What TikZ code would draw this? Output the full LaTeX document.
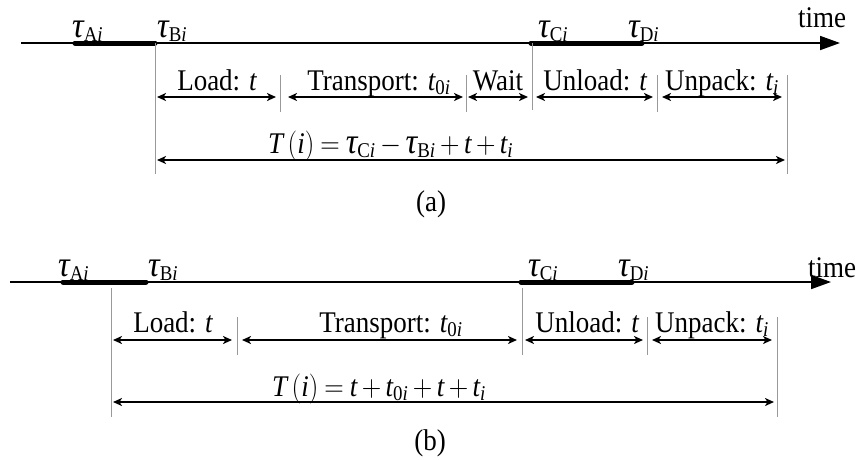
\RequirePackage{fix-cm}
\documentclass[tikz,border=0pt]{standalone}
\usepackage{fontspec}
\setmainfont{Liberation Serif}
\usetikzlibrary{arrows.meta}
\newcommand\tauit{\mbox{\itshape τ}}
\newcommand\taubig{\mbox{\fontsize{36}{40}\selectfont\itshape τ}}
\newcommand\tlab[1]{$\taubig_{\mathrm{#1}\mathit{i}}$}
\newcommand\sq[1]{\scalebox{0.9}[1]{#1}}
\newcommand\tight{\thickmuskip=4mu\medmuskip=3mu}
\begin{document}
\begin{tikzpicture}[x=1pt,y=-1pt,
  every node/.style={font=\fontsize{30}{34}\selectfont, inner sep=0pt},
  axis/.style={line width=1.8pt,-{Triangle[length=20pt,width=14pt]}},
  busy/.style={line width=5pt,line cap=round},
  guide/.style={line width=1pt,black!40},
  dim/.style={line width=1.8pt,{Stealth[length=9pt,width=8pt,inset=2.5pt]}-{Stealth[length=9pt,width=8pt,inset=2.5pt]}},
  tlabel/.style={anchor=base west},
  dlabel/.style={anchor=base}]
\useasboundingbox (0,0) rectangle (856,459);

% ---------------- (a) ----------------
\coordinate (a0) at (21,43);
\coordinate (a1) at (840,43);
\coordinate (aA) at (75,43);
\coordinate (aB) at (155,43);
\coordinate (aC) at (531,43);
\coordinate (aD) at (642,43);
\draw[axis] (a0) -- (a1);
\draw[busy] (aA) -- (aB);
\draw[busy] (aC) -- (aD);
\node[tlabel] (atime) at (798,27) {\sq{time}};
\node[tlabel] (atA) at (72,37) {\sq{\tlab{A}}};
\node[tlabel] (atB) at (157,37) {\sq{\tlab{B}}};
\node[tlabel] (atC) at (538,37) {\sq{\tlab{C}}};
\node[tlabel] (atD) at (628,37) {\sq{\tlab{D}}};

\coordinate (ag1t) at (155,43);  \coordinate (ag1b) at (155,174);
\coordinate (ag2t) at (280,75);  \coordinate (ag2b) at (280,112);
\coordinate (ag3t) at (466,75);  \coordinate (ag3b) at (466,112);
\coordinate (ag4t) at (532,43);  \coordinate (ag4b) at (532,110);
\coordinate (ag5t) at (657,75);  \coordinate (ag5b) at (657,112);
\coordinate (ag6t) at (787,75);  \coordinate (ag6b) at (787,174);
\foreach \g in {1,...,6} \draw[guide] (ag\g t) -- (ag\g b);

\coordinate (ad1l) at (157,97); \coordinate (ad1r) at (276,97);
\coordinate (ad2l) at (288,97); \coordinate (ad2r) at (463,97);
\coordinate (ad3l) at (468,97); \coordinate (ad3r) at (528,97);
\coordinate (ad4l) at (536,97); \coordinate (ad4r) at (653,97);
\coordinate (ad5l) at (662,97); \coordinate (ad5r) at (782,97);
\foreach \d in {1,...,5} \draw[dim] (ad\d l) -- (ad\d r);
\coordinate (adTl) at (157,160); \coordinate (adTr) at (785,160);
\draw[dim] (adTl) -- (adTr);

\node[dlabel] (alLoad) at (217,90) {\sq{Load: $\mathit{t}$}};
\node[dlabel] (alTrans) at (379,90) {\sq{Transport: $\mathit{t}_{\mathrm{0}\mathit{i}}$}};
\node[dlabel] (alWait) at (498,90) {\sq{Wait}};
\node[dlabel] (alUnload) at (595,90) {\sq{Unload: $\mathit{t}$}};
\node[dlabel] (alUnpack) at (722,90) {\sq{Unpack: $\mathit{t}_{\mathit{i}}$}};
\node[anchor=base west] (alT) at (268,153) {\sq{$\tight\mathit{T}\,\Bigl(\mathit{i}\Bigr)=\taubig_{\mathrm{C}\mathit{i}}-\taubig_{\mathrm{B}\mathit{i}}+\mathit{t}+\mathit{t}_{\mathit{i}}$}};
\node (acap) at (431,204) {\sq{(a)}};

% ---------------- (b) ----------------
\coordinate (b0) at (10,282);
\coordinate (b1) at (831,282);
\coordinate (bA) at (63,282);
\coordinate (bB) at (146,282);
\coordinate (bC) at (521,282);
\coordinate (bD) at (632,282);
\draw[axis] (b0) -- (b1);
\draw[busy] (bA) -- (bB);
\draw[busy] (bC) -- (bD);
\node[tlabel] (btime) at (808,277) {\sq{time}};
\node[tlabel] (btA) at (58,276) {\sq{\tlab{A}}};
\node[tlabel] (btB) at (148,276) {\sq{\tlab{B}}};
\node[tlabel] (btC) at (528,276) {\sq{\tlab{C}}};
\node[tlabel] (btD) at (618,276) {\sq{\tlab{D}}};

\coordinate (bg1t) at (111,288);  \coordinate (bg1b) at (111,417);
\coordinate (bg2t) at (237,317);  \coordinate (bg2b) at (237,355);
\coordinate (bg3t) at (522,288);  \coordinate (bg3b) at (522,355);
\coordinate (bg4t) at (647,317);  \coordinate (bg4b) at (647,355);
\coordinate (bg5t) at (777,317);  \coordinate (bg5b) at (777,417);
\foreach \g in {1,...,5} \draw[guide] (bg\g t) -- (bg\g b);

\coordinate (bd1l) at (113,340); \coordinate (bd1r) at (232,340);
\coordinate (bd2l) at (242,340); \coordinate (bd2r) at (517,340);
\coordinate (bd3l) at (525,340); \coordinate (bd3r) at (643,340);
\coordinate (bd4l) at (652,340); \coordinate (bd4r) at (772,340);
\foreach \d in {1,...,4} \draw[dim] (bd\d l) -- (bd\d r);
\coordinate (bdTl) at (113,402); \coordinate (bdTr) at (774,402);
\draw[dim] (bdTl) -- (bdTr);

\node[dlabel] (blLoad) at (173,332) {\sq{Load: $\mathit{t}$}};
\node[dlabel] (blTrans) at (391,332) {\sq{Transport: $\mathit{t}_{\mathrm{0}\mathit{i}}$}};
\node[dlabel] (blUnload) at (587,332) {\sq{Unload: $\mathit{t}$}};
\node[dlabel] (blUnpack) at (712,332) {\sq{Unpack: $\mathit{t}_{\mathit{i}}$}};
\node[anchor=base west] (blT) at (272,396) {\sq{$\tight\mathit{T}\,\Bigl(\mathit{i}\Bigr)=\mathit{t}+\mathit{t}_{\mathrm{0}\mathit{i}}+\mathit{t}+\mathit{t}_{\mathit{i}}$}};
\node (bcap) at (430,443) {\sq{(b)}};
\end{tikzpicture}
\end{document}
